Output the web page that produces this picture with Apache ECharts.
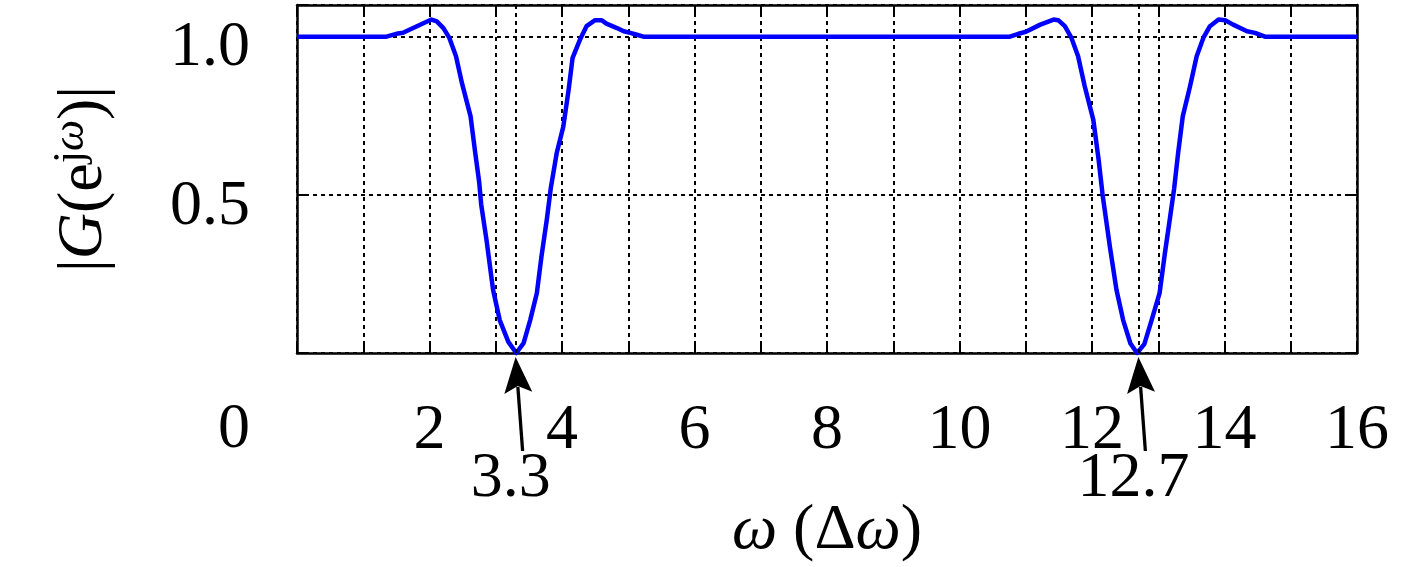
<!DOCTYPE html>
<html>
<head>
<meta charset="utf-8">
<script src="https://cdn.jsdelivr.net/npm/echarts@6/dist/echarts.min.js"></script>
<style>
  html, body { margin: 0; padding: 0; background: #fff; }
  #chart { width: 1417px; height: 567px; }
</style>
</head>
<body>
<div id="chart"></div>
<script>
// frequency (in units of delta omega) and magnitude
const omega = [0, 1.35, 1.50, 1.60, 1.81, 2.03, 2.11, 2.21, 2.30, 2.40, 2.49, 2.62, 2.69, 2.75, 2.78, 2.86, 2.96, 3.06, 3.19, 3.31,
  3.42, 3.52, 3.62, 3.69, 3.77, 3.83, 3.92, 4.02, 4.10, 4.16, 4.27, 4.37, 4.50, 4.60, 4.67, 4.83, 4.93, 5.03, 5.13, 5.23,
  10.76, 10.89, 11.01, 11.22, 11.42, 11.49, 11.59, 11.69, 11.79, 11.89, 12.02, 12.10, 12.16, 12.27, 12.37, 12.47, 12.58, 12.68,
  12.79, 12.90, 13.02, 13.10, 13.18, 13.24, 13.30, 13.37, 13.48, 13.58, 13.68, 13.78, 13.91, 14.01, 14.13, 14.34, 14.46, 14.61, 16]
const gain = [1.0, 1.0, 1.009, 1.012, 1.033, 1.054, 1.048, 1.027, 0.996, 0.938, 0.853, 0.748, 0.633, 0.54, 0.47, 0.358, 0.199, 0.104, 0.035, 0.0,
  0.031, 0.104, 0.189, 0.305, 0.421, 0.52, 0.632, 0.716, 0.832, 0.933, 0.990, 1.033, 1.052, 1.052, 1.041, 1.027, 1.017, 1.012, 1.006, 1.0,
  1.0, 1.009, 1.016, 1.038, 1.054, 1.052, 1.033, 0.996, 0.938, 0.843, 0.737, 0.611, 0.50, 0.336, 0.199, 0.104, 0.030, 0.0,
  0.028, 0.104, 0.189, 0.315, 0.431, 0.52, 0.632, 0.748, 0.843, 0.938, 0.996, 1.033, 1.054, 1.052, 1.038, 1.017, 1.012, 1.0, 1.0]
// notch positions marked with arrows
const minima = [3.3, 12.7]
const xTickLabels = [2, 4, 6, 8, 10, 12, 14, 16]
const yTickLabels = [0, 0.5, 1.0]

const FONT = 'Liberation Serif'
const gridStyle = { color: '#000', width: 2, type: [4, 4] }
const frameLine = { show: true, onZero: false, lineStyle: { color: '#000', width: 2.5 } }
const innerTick = { show: true, inside: true, length: 8, lineStyle: { color: '#000', width: 2 } }

const chart = echarts.init(document.getElementById('chart'))

chart.setOption({
  animation: false,
  grid: { left: 297, right: 60, top: 5, bottom: 214, outerBoundsMode: 'none' },
  xAxis: [
    {
      type: 'value', position: 'bottom', min: 0, max: 16, interval: 1,
      axisLine: frameLine,
      axisTick: innerTick,
      axisLabel: {
        show: true, margin: 46, fontFamily: FONT, fontSize: 64, color: '#000',
        formatter: v => xTickLabels.indexOf(v) >= 0 ? String(v) : ''
      },
      splitLine: { show: true, lineStyle: gridStyle },
      name: '{i|ω} (Δ{i|ω})',
      nameLocation: 'middle',
      nameGap: 146,
      nameTextStyle: {
        fontFamily: FONT, fontSize: 64, color: '#000',
        rich: { i: { fontFamily: FONT, fontSize: 64, fontStyle: 'italic', color: '#000' } }
      }
    },
    {
      type: 'value', position: 'top', min: 0, max: 16, interval: 1,
      axisLine: frameLine, axisTick: innerTick,
      axisLabel: { show: false }, splitLine: { show: false }
    },
    {
      type: 'value', position: 'bottom', min: 0, max: 16,
      axisLine: { show: false }, axisTick: { show: false }, splitLine: { show: false },
      axisLabel: {
        show: true, customValues: minima, margin: 94, padding: [0, 10, 0, 0],
        fontFamily: FONT, fontSize: 64, color: '#000',
        formatter: v => v.toFixed(1)
      }
    }
  ],
  yAxis: [
    {
      type: 'value', position: 'left', min: 0, max: 1.1, interval: 0.5,
      axisLine: frameLine,
      axisTick: innerTick,
      axisLabel: {
        show: true, margin: 47, fontFamily: FONT, fontSize: 64, color: '#000',
        formatter: v => {
          if (Math.abs(v) < 1e-9) return '{z|0}'
          const hit = yTickLabels.find(t => Math.abs(t - v) < 1e-9)
          return hit === undefined ? '' : '{n|' + hit.toFixed(1) + '}'
        },
        rich: {
          n: { fontFamily: FONT, fontSize: 64, color: '#000', padding: [24, 0, 0, 0] },
          z: { fontFamily: FONT, fontSize: 64, color: '#000', padding: [154, 0, 0, 0] }
        }
      },
      splitLine: { show: true, lineStyle: gridStyle },
      name: '{n||}{i|G}{n|(e}{s|j}{si|ω}{n|)|}',
      nameLocation: 'middle',
      nameGap: 178,
      nameRotate: 90,
      nameTextStyle: {
        fontFamily: FONT, fontSize: 64, color: '#000',
        rich: {
          n: { fontFamily: FONT, fontSize: 64, color: '#000' },
          i: { fontFamily: FONT, fontSize: 64, fontStyle: 'italic', color: '#000' },
          s: { fontFamily: FONT, fontSize: 44, color: '#000', padding: [0, 0, 26, 0] },
          si: { fontFamily: FONT, fontSize: 44, fontStyle: 'italic', color: '#000', padding: [0, 0, 26, 0] }
        }
      }
    },
    {
      type: 'value', position: 'right', min: 0, max: 1.1, interval: 0.5,
      axisLine: frameLine, axisTick: innerTick,
      axisLabel: { show: false }, splitLine: { show: false }
    }
  ],
  series: [{
    type: 'line',
    xAxisIndex: 0,
    yAxisIndex: 0,
    data: omega.map((x, i) => [x, gain[i]]),
    showSymbol: false,
    clip: false,
    lineStyle: { color: '#0000ff', width: 4.5, join: 'round' },
    markLine: {
      silent: true,
      symbol: ['none', 'none'],
      label: { show: false },
      lineStyle: gridStyle,
      data: minima.map(m => ({ xAxis: m }))
    },
    z: 3
  }]
})

// arrows pointing at the notches, placed through the axis scales
function arrowFor(m) {
  const tip = chart.convertToPixel({ xAxisIndex: 0, yAxisIndex: 0 }, [m, 0])
  tip[1] += 4
  const tail = [tip[0] + 7, tip[1] + 94]
  const len = Math.hypot(tail[0] - tip[0], tail[1] - tip[1])
  const d = [(tail[0] - tip[0]) / len, (tail[1] - tip[1]) / len]
  const n = [d[1], -d[0]]
  const at = (a, b) => [tip[0] + d[0] * a + n[0] * b, tip[1] + d[1] * a + n[1] * b]
  return [
    { type: 'line', shape: { x1: at(30, 0)[0], y1: at(30, 0)[1], x2: tail[0], y2: tail[1] },
      style: { stroke: '#000', lineWidth: 3.3 }, z: 10 },
    { type: 'polygon', shape: { points: [tip, at(36, 14), at(29, 0), at(36, -14)] },
      style: { fill: '#000' }, z: 10 }
  ]
}

chart.setOption({ graphic: [].concat(...minima.map(arrowFor)) })
</script>
</body>
</html>
